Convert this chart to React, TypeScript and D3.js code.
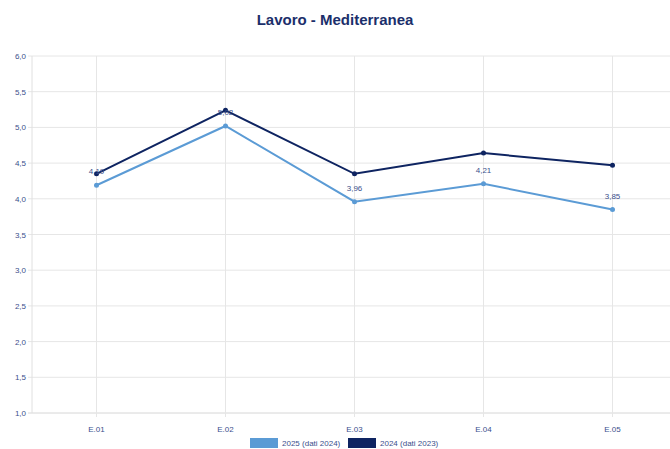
import React from "react";
import * as d3 from "d3";

const categories = ["E.01", "E.02", "E.03", "E.04", "E.05"];
const series2025 = [4.19, 5.02, 3.96, 4.21, 3.85];
const series2024 = [4.35, 5.24, 4.35, 4.64, 4.47];
const seriesNames = ["2025 (dati 2024)", "2024 (dati 2023)"];
const yTicks = [1.0, 1.5, 2.0, 2.5, 3.0, 3.5, 4.0, 4.5, 5.0, 5.5, 6.0];
const title = "Lavoro - Mediterranea";

const W = 670;
const H = 449;
const left = 32;
const top = 56;
const bottom = 413;
const band = 129;

const LIGHT = "#5b9bd5";
const DARK = "#0e2461";
const TEXT = "#3b4f8c";
const FONT = "'Liberation Sans', Arial, sans-serif";

export default function App() {
  const x = d3
    .scaleBand<string>()
    .domain(categories)
    .range([left, left + band * categories.length])
    .paddingInner(0)
    .paddingOuter(0);
  const cx = (c: string) => (x(c) as number) + x.bandwidth() / 2;
  const y = d3.scaleLinear().domain([1, 6]).range([bottom, top]);
  const line = d3
    .line<number>()
    .x((_, i) => cx(categories[i]))
    .y((d) => y(d));
  const fmt = (v: number, d: number) => v.toFixed(d).replace(".", ",");

  const series = [
    { name: seriesNames[1], values: series2024, color: DARK },
    { name: seriesNames[0], values: series2025, color: LIGHT },
  ];

  return (
    <svg
      width={W}
      height={H}
      style={{ position: "absolute", left: 0, top: 0, background: "#fff" }}
      fontFamily={FONT}
    >
      <text
        x={W / 2}
        y={25}
        textAnchor="middle"
        fontSize={15}
        fontWeight="bold"
        fill="#1b2f6b"
      >
        {title}
      </text>
      {yTicks.map((t) => (
        <g key={"y" + t}>
          <line
            x1={left - 4}
            x2={W}
            y1={y(t)}
            y2={y(t)}
            stroke={t === 1 ? "#d6d6d6" : "#e6e6e6"}
            strokeWidth={1}
          />
          <text
            x={left - 6}
            y={y(t) + 3}
            textAnchor="end"
            fontSize={8}
            fill={TEXT}
          >
            {fmt(t, 1)}
          </text>
        </g>
      ))}
      <line x1={left} x2={left} y1={top} y2={bottom} stroke="#e0e0e0" />
      {categories.map((c) => (
        <g key={c}>
          <line
            x1={cx(c)}
            x2={cx(c)}
            y1={top}
            y2={bottom + 4}
            stroke="#e6e6e6"
          />
          <text
            x={cx(c)}
            y={bottom + 19}
            textAnchor="middle"
            fontSize={8}
            fill={TEXT}
          >
            {c}
          </text>
        </g>
      ))}
      {series.map((s) => (
        <g key={s.name}>
          <path
            d={line(s.values) as string}
            fill="none"
            stroke={s.color}
            strokeWidth={2}
          />
          {s.values.map((v, i) => (
            <circle
              key={i}
              cx={cx(categories[i])}
              cy={y(v)}
              r={2.5}
              fill={s.color}
            />
          ))}
        </g>
      ))}
      {series2025.map((v, i) => (
        <text
          key={"l" + i}
          x={cx(categories[i])}
          y={y(v) - 11}
          textAnchor="middle"
          fontSize={8}
          fill={TEXT}
        >
          {fmt(v, 2)}
        </text>
      ))}
      <g>
        <rect x={250} y={438} width={28} height={10} fill={LIGHT} />
        <text x={282} y={446} fontSize={8} fill={TEXT}>
          {seriesNames[0]}
        </text>
        <rect x={348} y={438} width={28} height={10} fill={DARK} />
        <text x={380} y={446} fontSize={8} fill={TEXT}>
          {seriesNames[1]}
        </text>
      </g>
    </svg>
  );
}
